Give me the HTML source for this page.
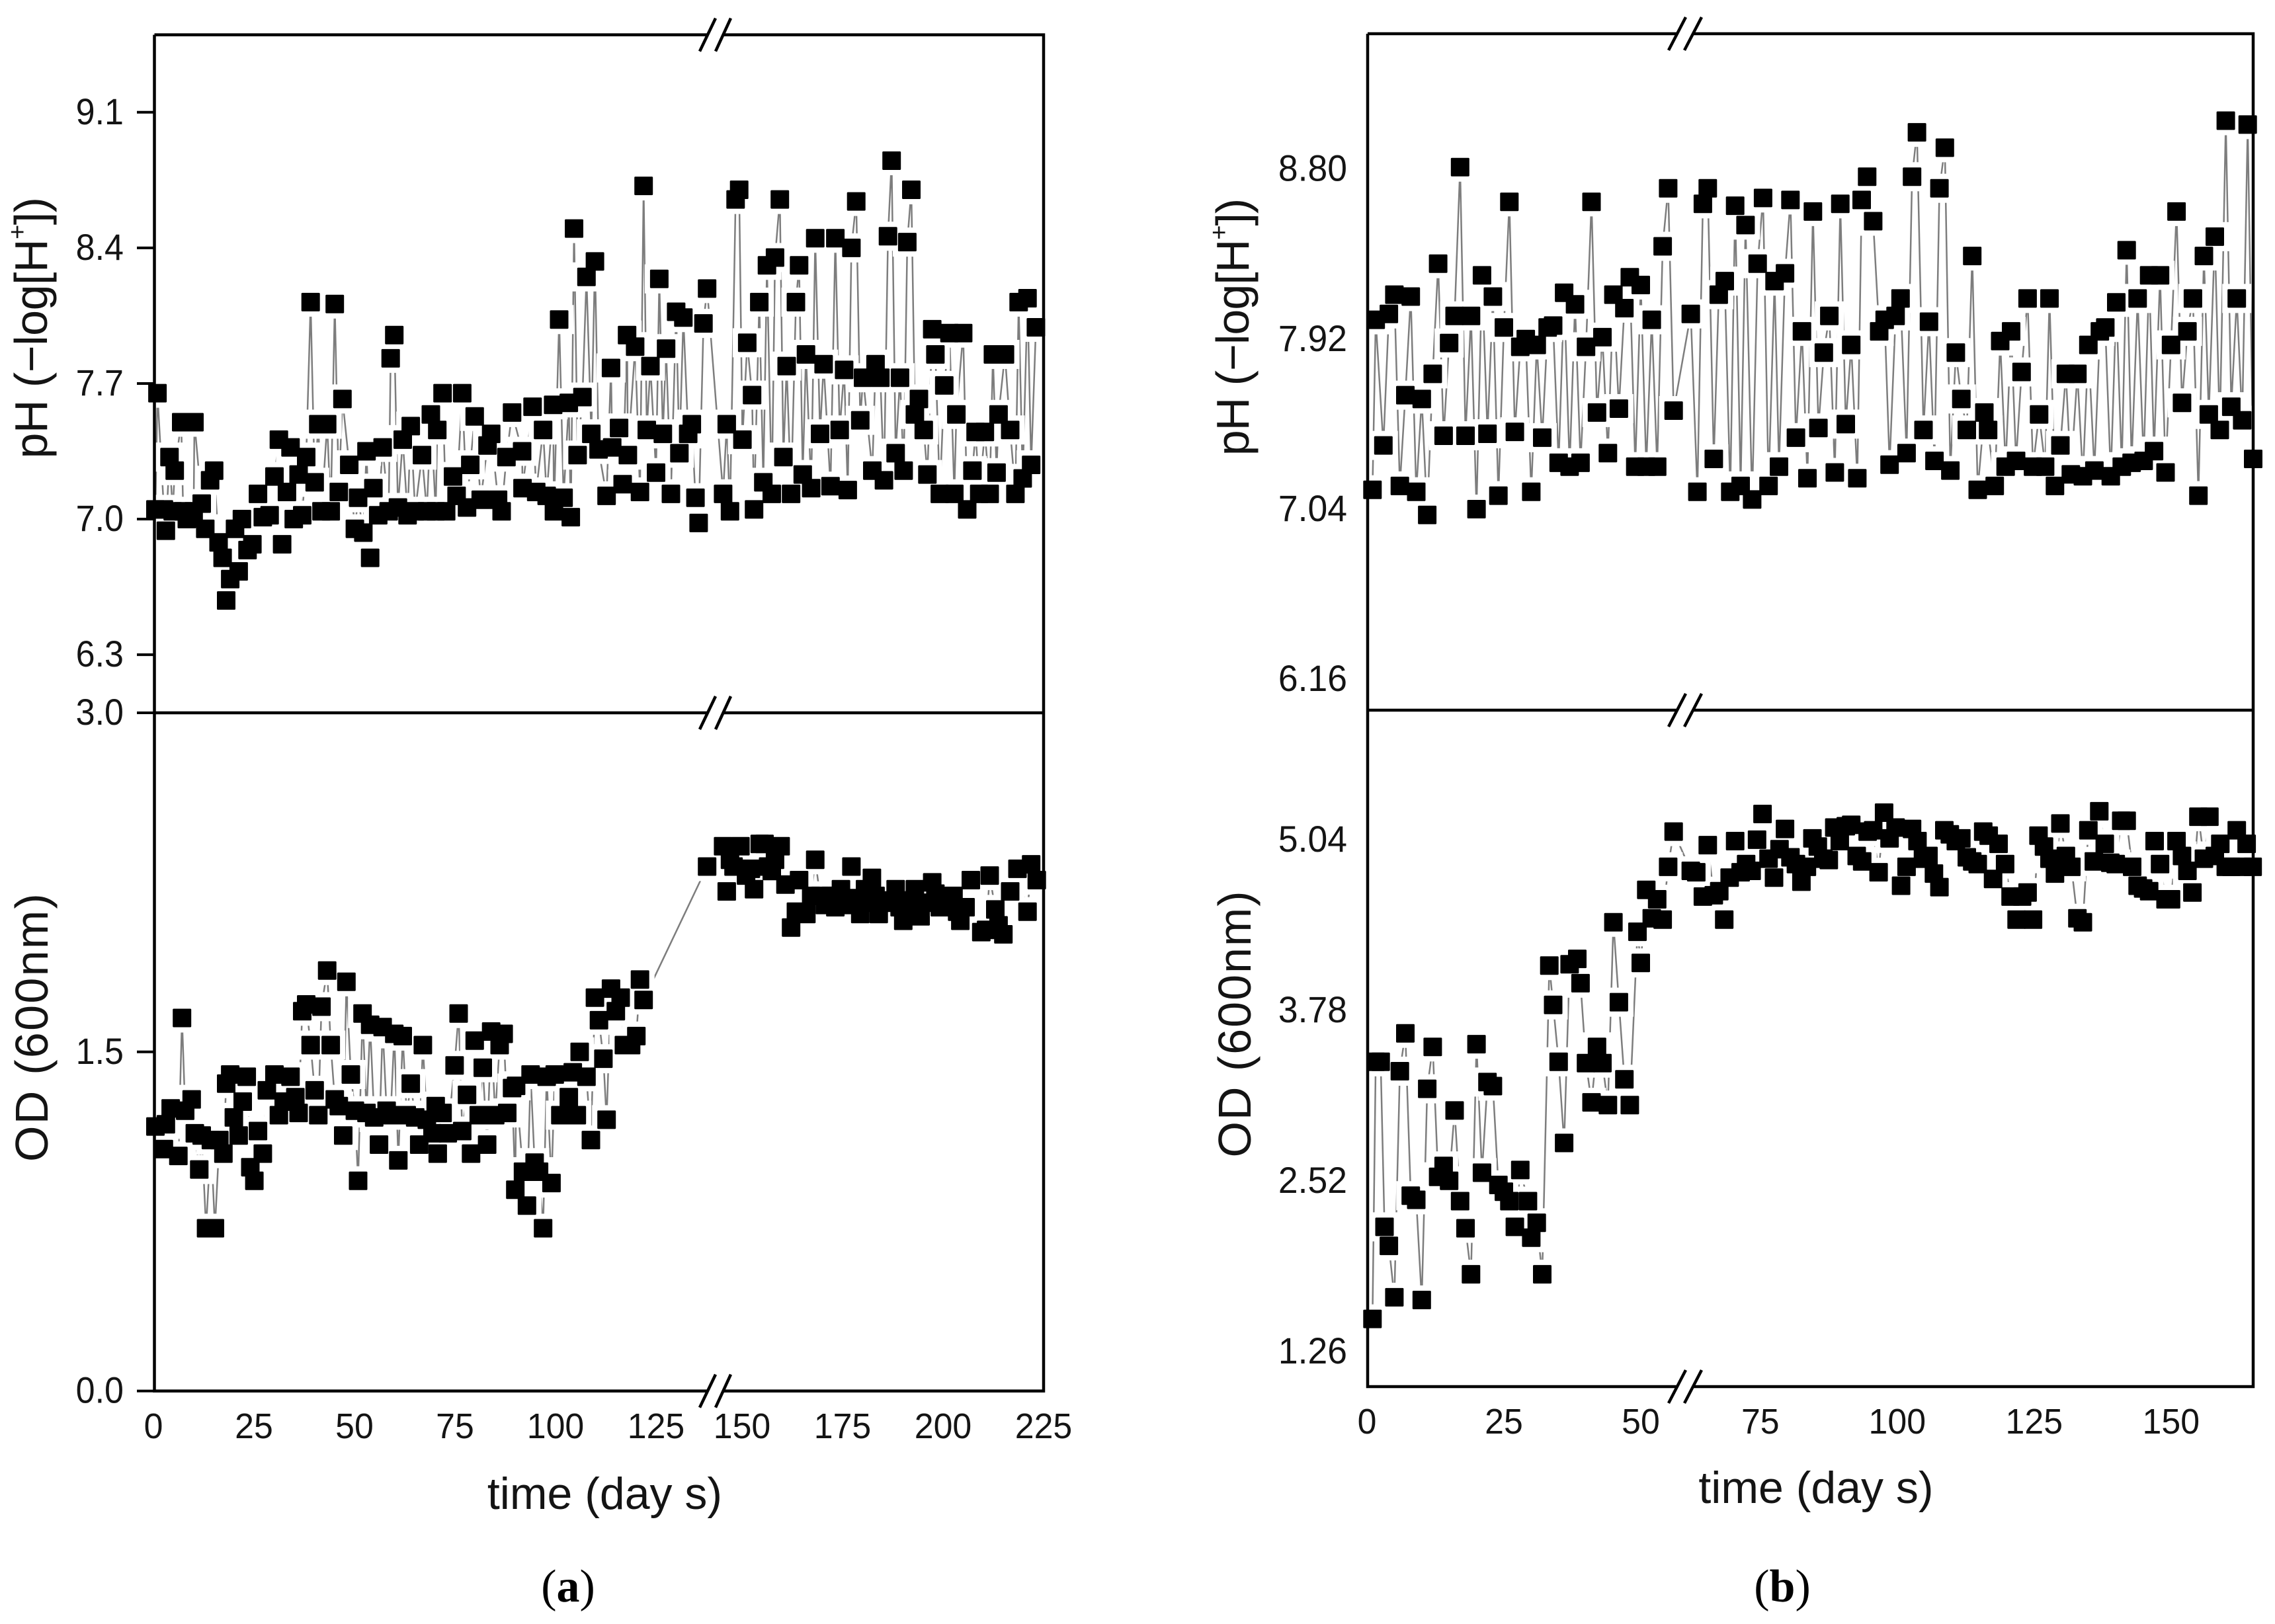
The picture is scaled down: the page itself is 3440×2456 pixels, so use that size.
<!DOCTYPE html>
<html lang="en">
<head>
<meta charset="utf-8">
<title>pH and OD time series</title>
<style>
html,body{margin:0;padding:0;background:#fff;}
svg{display:block;}
text{font-family:"Liberation Sans",sans-serif;fill:#141414;}
.tick{font-size:56px;}
.xtick{font-size:54px;}
.title{font-size:70px;}
.xtitle{font-size:68px;}
.cap{font-family:"Liberation Serif",serif;font-size:70px;fill:#000;}
</style>
</head>
<body>
<svg id="chart" width="3440" height="2456" viewBox="0 0 3440 2456" xmlns="http://www.w3.org/2000/svg">
<rect width="3440" height="2456" fill="#fff"/>
<g id="marks"></g>
<g fill="none" stroke="#000" stroke-width="4.5">
<path d="M233.5 52.6H1070M1093 52.6H1578V2103.6H1093M1070 2103.6H233.5V52.6M233.5 1078H1070M1093 1078H1578"/>
<path d="M1058 77.6L1082 27.6M1082 77.6L1105 27.6M1058 1103L1082 1053M1082 1103L1105 1053M1058 2128.6L1082 2078.6M1082 2128.6L1105 2078.6"/>
</g>
<g fill="none" stroke="#000" stroke-width="4.5">
<path d="M2068 51H2536M2560 51H3407V2097H2560M2536 2097H2068V51M2068 1074H2536M2560 1074H3407"/>
<path d="M2523 76L2549 26M2547 76L2573 26M2523 1099L2549 1049M2547 1099L2573 1049M2523 2122L2549 2072M2547 2122L2573 2072"/>
</g>
<g id="axes"></g>
<text class="title" transform="translate(71,496) rotate(-90)" text-anchor="middle" letter-spacing="-0.5">pH (−log[H<tspan dy="-32" font-size="38">+</tspan><tspan dy="32">])</tspan></text>
<text class="title" transform="translate(72,1553) rotate(-90)" text-anchor="middle" letter-spacing="2.3">OD (600nm)</text>
<text class="title" transform="translate(1888,495) rotate(-90)" text-anchor="middle" letter-spacing="-1">pH (−log[H<tspan dy="-32" font-size="38">+</tspan><tspan dy="32">])</tspan></text>
<text class="title" transform="translate(1891,1548) rotate(-90)" text-anchor="middle" letter-spacing="2">OD (600nm)</text>
<text class="xtitle" x="914.5" y="2282" text-anchor="middle">time (day s)</text>
<text class="xtitle" x="2746" y="2273" text-anchor="middle">time (day s)</text>
<text class="cap" x="859" y="2422" text-anchor="middle">(<tspan font-weight="bold">a</tspan>)</text>
<text class="cap" x="2695" y="2422" text-anchor="middle">(<tspan font-weight="bold">b</tspan>)</text>
</svg>
<script>
var aXTicks = [0,25,50,75,100,125,150,175,200,225];
var bXTicks = [0,25,50,75,100,125,150];
var aPhTicks = ["6.3","7.0","7.7","8.4","9.1"];
var aOdTicks = ["0.0","1.5","3.0"];
var bPhTicks = ["6.16","7.04","7.92","8.80"];
var bOdTicks = ["1.26","2.52","3.78","5.04"];

var aPhDays = [0.5,1,2.6,3.1,4,4.8,5.3,6.9,7.4,8.3,
10,10.2,12,12.9,14.1,15.1,16.2,17.2,18.1,19.1,
20.3,21.2,22,23.4,24.6,26,27.2,28.9,30.1,31.2,
32,33.2,34.1,34.9,36.1,37,38,39.1,40.1,41,
41.8,43.2,44.1,45.1,46.1,47,48.7,50.1,50.9,52.2,
53,53.9,54.7,55.9,57,58.5,59,59.9,60.8,62,
63.2,64,65.1,66.8,68,69,70.2,70.6,71.9,72.8,
74.5,75.4,76.8,78,78.8,79.9,81.4,83.1,84,85.7,
86.6,87.8,89.2,91.7,91.8,94.3,95.2,96.9,97.8,99.4,
99.6,100.9,102,103.3,103.8,104.6,105.5,106.7,107.7,108.9,
109.8,110.7,112.7,113.8,114.1,115.8,116.7,117.8,118,119.8,
121,121.9,122.7,123.6,125,125.8,126.7,127.5,128.7,130,
130.8,131.8,133,133.9,134.8,135.6,136.8,137.7,
145.3,146.2,147,148.4,149.3,150.1,151.3,152.5,153,154.3,
155.3,156.2,157.4,158.2,159.4,160.3,161.1,162.2,163.4,164.2,
165.1,165.9,167.2,168.2,169.4,170.3,172,173.2,174.3,175.4,
176.3,177.2,178.4,179.4,180.1,182.4,183.2,184.4,185.3,186.3,
187.2,188.2,189.3,190.2,191.1,192.1,193,194,195.2,196.1,
197.3,198.1,199.2,200.3,201.6,202.8,203.3,205,206,207.3,
208.1,209,210.4,211.6,212.4,213.3,213.8,215.4,216.7,218,
218.8,219.8,221,221.9,223.1];
var aPhValues = [7.05,7.65,7.05,6.94,7.32,7.04,7.25,7.50,7.04,7.00,
7.04,7.50,7.08,6.95,7.20,7.25,6.88,6.80,6.58,6.69,
6.95,6.73,7.00,6.84,6.87,7.13,7.01,7.02,7.22,7.41,
6.87,7.14,7.37,7.00,7.23,7.02,7.32,8.12,7.19,7.49,
7.04,7.49,7.04,8.11,7.14,7.62,7.28,6.95,7.11,6.93,
7.35,6.80,7.16,7.02,7.37,7.04,7.83,7.95,7.06,7.41,
7.02,7.48,7.04,7.33,7.04,7.54,7.04,7.46,7.65,7.04,
7.22,7.12,7.65,7.06,7.28,7.53,7.10,7.38,7.44,7.10,
7.04,7.32,7.55,7.35,7.16,7.58,7.14,7.46,7.12,7.59,
7.04,8.03,7.11,7.60,7.01,8.50,7.33,7.63,8.25,7.44,
8.33,7.36,7.12,7.78,7.37,7.47,7.18,7.95,7.33,7.89,
7.14,8.72,7.46,7.79,7.24,8.24,7.44,7.88,7.13,8.07,
7.34,8.04,7.44,7.49,7.11,6.98,8.01,8.19,
7.13,7.49,7.04,8.65,8.70,7.41,7.91,7.64,7.05,8.12,
7.19,8.31,7.13,8.35,8.65,7.32,7.79,7.13,8.12,8.31,
7.23,7.85,7.16,8.45,7.44,7.80,7.17,8.45,7.46,7.77,
7.15,8.40,8.64,7.51,7.73,7.25,7.80,7.73,7.20,8.46,
8.85,7.34,7.73,7.25,8.43,8.70,7.54,7.62,7.46,7.23,
7.98,7.85,7.13,7.69,7.96,7.13,7.54,7.96,7.05,7.25,
7.45,7.13,7.45,7.13,7.85,7.24,7.54,7.85,7.46,7.13,
8.12,7.21,8.14,7.28,7.99];

var aOdDays = [0.5,2.6,3.1,4.3,6.2,7.1,7.9,9.5,10.3,11.4,
12,13.1,14.3,15.3,16.4,17.4,18.1,19.1,20,21.2,
22.2,23.2,24.1,25.1,26,27.2,28.2,30.1,31.2,32.4,
34.1,35.3,36.1,37,38,39.1,40.1,41,41.8,43.2,
44.1,45.1,46.1,47.2,48,49.1,50.1,50.9,52,53,
53.9,54.9,56.1,57,58,59,59.9,60.9,62,63,
64,65.1,66.1,67,68,69.4,70.2,70.7,71.9,73.2,
74.9,75.9,76.8,78,79,79.9,80.9,81.9,83,84,
85,86.1,87.1,88,89.2,90,90.2,91.9,92.9,93.8,
94.8,95.9,96.9,97.8,99,99.8,101.2,103.3,104.3,105.3,
106,107.7,108.8,109.8,110.8,111.9,112.7,113.8,115,116.2,
117,118.8,120.1,121,121.9,137.7,
145.3,146.2,147,147.9,149.6,151,152.2,153,154.4,155.6,
156.5,157.4,158.2,159.6,160.8,162.2,163.4,164.2,166,167.2,
168.2,169.4,170.6,172,173.2,173.7,174.6,175.8,176.6,177.2,
178.4,179.4,180.6,181.5,182.3,183.2,184,185.8,187,188.2,
189.2,190.1,190.9,191.8,193,194.4,195.7,197.3,198.1,199.2,
200.4,201.6,202.6,203.5,204.3,205.6,206.9,209.5,210.7,211.6,
213,213.8,215,216.7,218.5,221,221.9,223.3];
var aOdValues = [1.17,1.07,1.18,1.25,1.04,1.65,1.24,1.29,1.14,0.98,
1.13,0.72,1.11,0.72,1.11,1.05,1.36,1.40,1.21,1.13,
1.28,1.39,0.99,0.93,1.15,1.05,1.33,1.40,1.22,1.28,
1.39,1.30,1.23,1.68,1.71,1.53,1.33,1.22,1.70,1.86,
1.53,1.29,1.26,1.13,1.81,1.40,1.24,0.93,1.67,1.23,
1.62,1.21,1.09,1.61,1.24,1.22,1.58,1.02,1.57,1.22,
1.36,1.21,1.09,1.53,1.20,1.14,1.26,1.05,1.23,1.14,
1.44,1.67,1.15,1.31,1.05,1.55,1.22,1.43,1.09,1.59,
1.22,1.53,1.58,1.23,1.34,0.89,1.35,0.97,0.82,1.40,
1.01,0.97,0.72,1.39,0.92,1.40,1.22,1.30,1.41,1.22,
1.50,1.39,1.11,1.74,1.64,1.47,1.20,1.78,1.68,1.74,
1.53,1.53,1.57,1.82,1.73,2.32,
2.41,2.21,2.35,2.32,2.41,2.28,2.31,2.22,2.42,2.42,
2.32,2.30,2.35,2.41,2.24,2.05,2.12,2.26,2.11,2.19,
2.35,2.19,2.15,2.19,2.14,2.19,2.22,2.15,2.17,2.32,
2.18,2.11,2.22,2.16,2.27,2.19,2.11,2.17,2.16,2.22,
2.14,2.08,2.12,2.17,2.22,2.10,2.16,2.25,2.20,2.14,
2.18,2.16,2.19,2.12,2.08,2.14,2.26,2.03,2.04,2.28,
2.13,2.06,2.02,2.21,2.31,2.12,2.33,2.26];

var bPhDays = [1,1.6,3,4,5,6,7,8,9,10,
11,12,13,14,15,16,17,18,19,20,
21,22,23,24,25,26,27,28,29,30,
31,32,33,34,35,36,37,38,39,40,
41,42,43,44,45,46,47,48,49,50,
51,52,53,54,55,56,
62.3,63.5,64.5,65.4,66.5,67.4,68.5,69.5,70.4,71.4,
72.3,73.5,74.5,75.5,76.5,77.6,78.4,79.5,80.5,81.5,
82.6,83.6,84.6,85.6,86.6,87.6,88.6,89.6,90.6,91.6,
92.7,93.5,94.5,95.6,96.7,97.7,98.6,99.7,100.6,101.7,
102.7,103.6,104.8,105.8,106.8,107.7,108.7,109.7,110.7,111.7,
112.7,113.7,114.7,115.9,116.6,117.8,118.8,119.8,120.8,121.7,
122.7,123.8,124.8,125.9,127,127.8,128.8,129.8,130.8,131.7,
132.9,133.9,134.9,136,137,138,139,140,141,141.9,
142.8,143.9,145,146,146.9,148,149,150,151,152,
153,154,155,156,156.9,158,158.9,160,161,162,
163,164,165];
var bPhValues = [7.14,8.02,7.37,8.05,8.15,7.16,7.63,8.14,7.13,7.61,
7.01,7.74,8.31,7.42,7.90,8.04,8.81,7.42,8.04,7.04,
8.25,7.43,8.14,7.11,7.98,8.63,7.44,7.88,7.92,7.13,
7.89,7.41,7.98,7.99,7.28,8.16,7.26,8.10,7.28,7.88,
8.63,7.54,7.93,7.33,8.15,7.56,8.08,8.24,7.26,8.20,
7.26,8.02,7.26,8.40,8.70,7.55,
8.05,7.13,8.62,8.70,7.30,8.15,8.22,7.13,8.61,7.16,
8.51,7.09,8.31,8.65,7.16,8.22,7.26,8.26,8.64,7.41,
7.96,7.20,8.58,7.46,7.85,8.04,7.23,8.62,7.48,7.89,
7.20,8.64,8.76,8.53,7.96,8.02,7.27,8.04,8.13,7.33,
8.76,8.99,7.45,8.01,7.29,8.70,8.91,7.24,7.85,7.61,
7.45,8.35,7.14,7.54,7.45,7.16,7.91,7.26,7.96,7.29,
7.75,8.13,7.26,7.53,7.26,8.13,7.16,7.37,7.74,7.22,
7.74,7.21,7.89,7.24,7.96,7.98,7.21,8.11,7.26,8.38,
7.28,8.13,7.29,8.25,7.34,8.25,7.23,7.89,8.58,7.59,
7.96,8.13,7.11,8.35,7.53,8.45,7.45,9.05,7.57,8.13,
7.50,9.03,7.30];

var bOdDays = [1,1.6,2.5,3.2,4,5,6,7,8,9,
10,11,12,13,14,15,16,17,18,19,
20,21,22,23,24,25,26,27,28,29.4,
30,31,32,33.3,34,35,36,37,38.4,39,
40,41,42,43,44,45,46,47,48,49.4,
50,51,52,53,54,55,56,
62.3,63.3,64.5,65.4,66.5,67.5,68.4,69.4,70.4,71.4,
72.4,73.4,74.4,75.4,76.5,77.5,78.5,79.5,80.5,81.5,
82.5,83.5,84.5,85.5,86.5,87.5,88.5,89.5,90.6,91.6,
92.6,93.6,94.6,95.6,96.6,97.6,98.6,99.7,100.7,101.7,
102.7,103.7,104.7,105.7,106.7,107.7,108.6,109.6,110.7,111.7,
112.7,113.7,114.7,115.7,116.7,117.5,118.5,119.7,120.7,121.8,
122.8,123.8,124.8,125.8,126.8,127.8,128.8,129.8,130.8,131.8,
132.9,133.9,134.9,135.9,136.9,137.9,138.9,139.9,140.9,141.9,
142.9,143.9,144.9,146,147,148,149,150,151,152,
153,153.9,155,156,157,158,159,160,161,162,
163,163.8,164.9];
var bOdValues = [1.50,3.40,3.40,2.18,2.04,1.66,3.33,3.61,2.41,2.38,
1.64,3.20,3.51,2.55,2.63,2.52,3.04,2.37,2.17,1.83,
3.53,2.58,3.25,3.22,2.49,2.44,2.37,2.18,2.60,2.37,
2.10,2.21,1.83,4.11,3.82,3.40,2.80,4.12,4.16,3.98,
3.39,3.10,3.51,3.39,3.08,4.43,3.84,3.27,3.08,4.36,
4.13,4.67,4.46,4.60,4.45,4.84,5.10,
4.81,4.80,4.62,5.00,4.63,4.66,4.45,4.76,5.03,4.80,
4.86,4.81,5.04,5.23,4.90,4.76,4.97,5.12,4.91,4.86,
4.73,4.84,5.05,4.99,4.90,4.89,5.13,5.03,5.14,5.15,
4.92,4.88,5.10,5.11,4.80,5.24,5.05,5.13,4.70,4.84,
5.12,5.03,4.90,4.92,4.79,4.69,5.11,5.08,5.03,5.05,
4.91,4.88,4.86,5.10,5.07,4.75,5.01,4.86,4.62,4.45,
4.62,4.65,4.45,5.07,4.99,4.90,4.79,5.16,4.92,4.84,
4.46,4.43,5.11,4.88,5.25,5.01,4.87,4.86,5.18,5.18,
4.84,4.70,4.68,4.66,5.03,4.86,4.60,4.60,5.03,4.92,
4.81,4.65,5.21,4.90,5.21,4.92,5.01,4.84,4.84,5.11,
4.84,5.01,4.84];

var svgNS = "http://www.w3.org/2000/svg";
var marksLayer = document.getElementById("marks");
var axesLayer = document.getElementById("axes");

function xA(d){ return d <= 140 ? 232 + 6.08 * d : 1578 - (225 - d) * 6.08; }
function xB(d){ return d <= 59 ? 2067 + 8.28 * d : 3407 - (165 - d) * 8.28; }
function yLinear(lo, hi, yBottom, yTop){
  return function(v){ return yBottom - (v - lo) / (hi - lo) * (yBottom - yTop); };
}
var yAPh = yLinear(6, 9.5, 1078, 52.6);
var yAOd = yLinear(0, 3, 2103.6, 1078);
var yBPh = yLinear(6, 9.5, 1074, 51);
var yBOd = yLinear(1, 6, 2097, 1073.4);

function drawSeries(days, values, sx, sy, prefix){
  var g = document.createElementNS(svgNS, "g");
  
  
  var pts = [];
  var halo = "";
  for (var i = 0; i < days.length; i++) {
    var px = sx(days[i]);
    var py = sy(values[i]);
    pts.push(px.toFixed(1) + "," + py.toFixed(1));
    halo += "M" + (px - 22).toFixed(1) + " " + (py - 22).toFixed(1) + "h44v44h-44z";
  }
  var line = document.createElementNS(svgNS, "polyline");
  line.setAttribute("points", pts.join(" "));
  line.setAttribute("fill", "none");
  line.setAttribute("stroke", "#7d7d7d");
  line.setAttribute("stroke-width", "2.5");
  
  
  g.appendChild(line);
  var haloPath = document.createElementNS(svgNS, "path");
  haloPath.setAttribute("d", halo);
  haloPath.setAttribute("fill", "#fff");
  
  
  g.appendChild(haloPath);
  for (var j = 0; j < days.length; j++) {
    var r = document.createElementNS(svgNS, "rect");
    r.setAttribute("x", (sx(days[j]) - 14).toFixed(1));
    r.setAttribute("y", (sy(values[j]) - 14).toFixed(1));
    r.setAttribute("width", "28");
    r.setAttribute("height", "28");
    r.setAttribute("rx", "1.5");
    r.setAttribute("fill", "#000");
    
    
    g.appendChild(r);
  }
  marksLayer.appendChild(g);
}

function drawYTicks(labels, sy, rightEdge, squeeze, tickFrom, tickTo){
  for (var i = 0; i < labels.length; i++) {
    var y = sy(parseFloat(labels[i]));
    if (tickFrom !== null) {
      var t = document.createElementNS(svgNS, "line");
      t.setAttribute("x1", tickFrom);
      t.setAttribute("x2", tickTo);
      t.setAttribute("y1", y);
      t.setAttribute("y2", y);
      t.setAttribute("stroke", "#000");
      t.setAttribute("stroke-width", "4");
      
      
      axesLayer.appendChild(t);
    }
    var el = document.createElementNS(svgNS, "text");
    el.setAttribute("transform", "translate(" + rightEdge + "," + (y + 18) + ") scale(" + squeeze + ",1)");
    el.setAttribute("text-anchor", "end");
    el.setAttribute("class", "tick");
    
    
    el.textContent = labels[i];
    axesLayer.appendChild(el);
  }
}

function drawXTicks(labels, sx, baseline){
  for (var i = 0; i < labels.length; i++) {
    var el = document.createElementNS(svgNS, "text");
    el.setAttribute("transform", "translate(" + sx(labels[i]) + "," + baseline + ") scale(0.96,1)");
    el.setAttribute("text-anchor", "middle");
    el.setAttribute("class", "xtick");
    
    
    el.textContent = String(labels[i]);
    axesLayer.appendChild(el);
  }
}

drawSeries(aPhDays, aPhValues, xA, yAPh, "panel-a-ph");
drawSeries(aOdDays, aOdValues, xA, yAOd, "panel-a-od");
drawSeries(bPhDays, bPhValues, xB, yBPh, "panel-b-ph");
drawSeries(bOdDays, bOdValues, xB, yBOd, "panel-b-od");

drawYTicks(aPhTicks, yAPh, 187, 0.93, 207, 233);
drawYTicks(aOdTicks, yAOd, 187, 0.93, 207, 233);
drawYTicks(bPhTicks, yBPh, 2037, 0.955, null, null);
drawYTicks(bOdTicks, yBOd, 2037, 0.955, null, null);
drawXTicks(aXTicks, xA, 2175);
drawXTicks(bXTicks, xB, 2168);
</script>
</body>
</html>
